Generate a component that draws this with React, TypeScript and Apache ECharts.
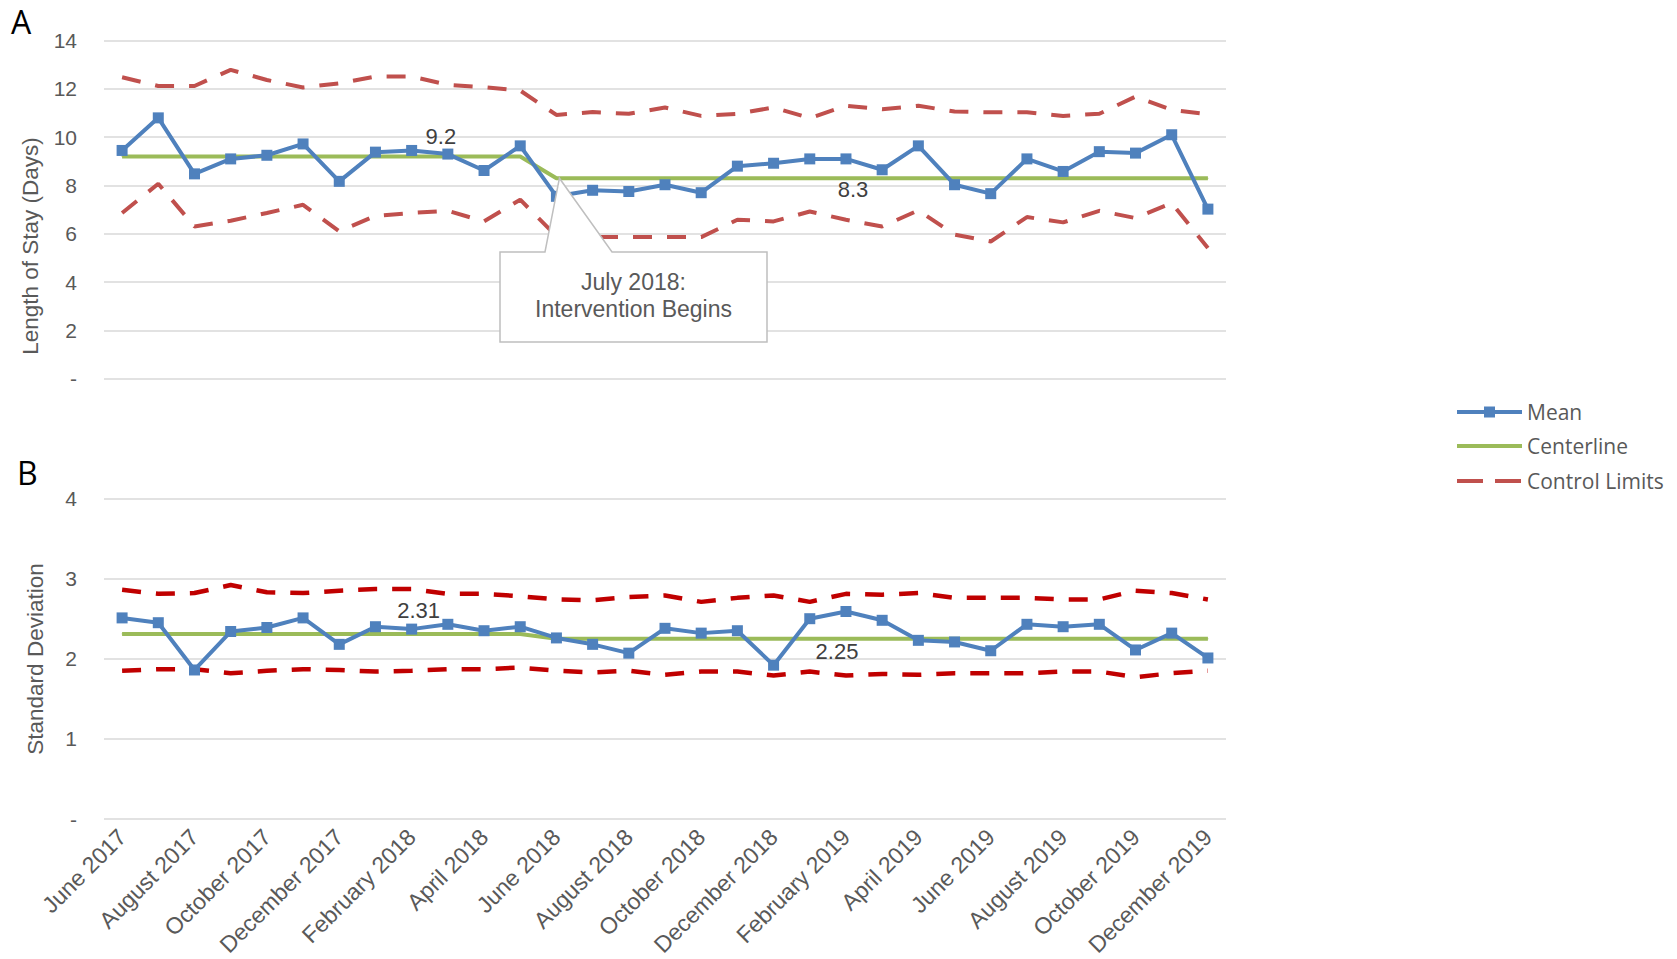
import React, { useEffect, useRef } from "react";
import * as echarts from "echarts";

const months = [
  "June 2017", "July 2017", "August 2017", "September 2017", "October 2017", "November 2017",
  "December 2017", "January 2018", "February 2018", "March 2018", "April 2018", "May 2018",
  "June 2018", "July 2018", "August 2018", "September 2018", "October 2018", "November 2018",
  "December 2018", "January 2019", "February 2019", "March 2019", "April 2019", "May 2019",
  "June 2019", "July 2019", "August 2019", "September 2019", "October 2019", "November 2019",
  "December 2019",
];

// Panel A: Length of stay (days)
const meanLOS = [9.45, 10.8, 8.48, 9.1, 9.25, 9.72, 8.17, 9.38, 9.45, 9.3, 8.62, 9.64, 7.55, 7.8, 7.75, 8.03, 7.7, 8.8, 8.92, 9.1, 9.1, 8.65, 9.64, 8.03, 7.66, 9.1, 8.58, 9.4, 9.34, 10.1, 7.02];
const centerLOS = [9.2, 9.2, 9.2, 9.2, 9.2, 9.2, 9.2, 9.2, 9.2, 9.2, 9.2, 9.2, 8.3, 8.3, 8.3, 8.3, 8.3, 8.3, 8.3, 8.3, 8.3, 8.3, 8.3, 8.3, 8.3, 8.3, 8.3, 8.3, 8.3, 8.3, 8.3];
const uclLOS = [12.48, 12.12, 12.12, 12.79, 12.37, 12.06, 12.23, 12.51, 12.51, 12.17, 12.07, 11.93, 10.92, 11.04, 10.97, 11.23, 10.88, 10.97, 11.23, 10.79, 11.3, 11.16, 11.3, 11.06, 11.03, 11.03, 10.88, 10.97, 11.68, 11.13, 10.95];
const lclLOS = [6.86, 8.07, 6.3, 6.54, 6.86, 7.2, 6.1, 6.74, 6.86, 6.95, 6.51, 7.41, 5.9, 5.86, 5.86, 5.86, 5.86, 6.58, 6.51, 6.92, 6.58, 6.3, 6.97, 5.96, 5.68, 6.69, 6.47, 6.95, 6.65, 7.27, 5.41];

// Panel B: Standard deviation
const meanSD = [2.51, 2.45, 1.86, 2.34, 2.39, 2.51, 2.18, 2.4, 2.37, 2.43, 2.35, 2.4, 2.26, 2.18, 2.07, 2.38, 2.32, 2.35, 1.92, 2.5, 2.59, 2.48, 2.23, 2.21, 2.1, 2.43, 2.4, 2.43, 2.11, 2.32, 2.01];
const centerSD = [2.31, 2.31, 2.31, 2.31, 2.31, 2.31, 2.31, 2.31, 2.31, 2.31, 2.31, 2.31, 2.25, 2.25, 2.25, 2.25, 2.25, 2.25, 2.25, 2.25, 2.25, 2.25, 2.25, 2.25, 2.25, 2.25, 2.25, 2.25, 2.25, 2.25, 2.25];
const uclSD = [2.86, 2.81, 2.82, 2.92, 2.83, 2.82, 2.85, 2.87, 2.87, 2.81, 2.81, 2.78, 2.74, 2.73, 2.77, 2.79, 2.71, 2.76, 2.79, 2.71, 2.81, 2.8, 2.82, 2.76, 2.76, 2.76, 2.74, 2.74, 2.85, 2.82, 2.74];
const lclSD = [1.85, 1.87, 1.87, 1.82, 1.85, 1.87, 1.86, 1.84, 1.85, 1.87, 1.87, 1.89, 1.85, 1.83, 1.85, 1.8, 1.84, 1.84, 1.79, 1.84, 1.79, 1.81, 1.8, 1.82, 1.82, 1.82, 1.84, 1.84, 1.77, 1.82, 1.85];

// Centerline value labels: [category index, text, position, distance, x-offset]
const labelsLOS: [number, string, string, number, number][] = [
  [9, "9.2", "top", 8, -7],
  [20, "8.3", "bottom", 0, 7],
];
const labelsSD: [number, string, string, number, number][] = [
  [8, "2.31", "top", 12, 7],
  [20, "2.25", "bottom", 1, -9],
];

const legendNames = ["Mean", "Centerline", "Control Limits"];
const calloutLines = ["July 2018:", "Intervention Begins"];
const interventionIndex = 12;

const AXIS_FONT = "'Liberation Sans', Arial, sans-serif";
const LEGEND_FONT = "'Open Sans', 'Noto Sans', sans-serif";
const BLUE = "#4F81BD";
const GREEN = "#9BBB59";
const RED_A = "#C0504D";
const RED_B = "#C00000";
const GRID_COLOR = "#D9D9D9";
const TEXT = "#595959";

function withLabels(arr: number[], labels: [number, string, string, number, number][]) {
  return arr.map((v, i) => {
    const l = labels.find((x) => x[0] === i);
    if (!l) return v;
    return {
      value: v,
      label: {
        show: true,
        position: l[2],
        distance: l[3],
        offset: [l[4], 0],
        formatter: l[1],
        color: "#404040",
        fontSize: 22,
        fontFamily: AXIS_FONT,
      },
    };
  });
}

export default function App() {
  const ref = useRef<HTMLDivElement>(null);

  useEffect(() => {
    if (!ref.current) return;
    const chart = echarts.init(ref.current, undefined, { renderer: "svg" });

    const yAxisCommon = {
      type: "value",
      axisLine: { show: false },
      axisTick: { show: false },
      splitLine: { lineStyle: { color: GRID_COLOR, width: 1.5 } },
      axisLabel: {
        color: TEXT,
        fontSize: 21,
        fontFamily: AXIS_FONT,
        margin: 27,
        formatter: (v: number) => (v === 0 ? "-" : String(v)),
      },
    };

    const dash = [19, 15];

    const mk = (name: string, data: any[], idx: number, color: string, extra: any = {}) => ({
      name,
      type: "line",
      xAxisIndex: idx,
      yAxisIndex: idx,
      data,
      symbol: "none",
      lineStyle: { color, width: 4 },
      itemStyle: { color },
      z: 2,
      ...extra,
    });

    const option: any = {
      animation: false,
      backgroundColor: "#ffffff",
      grid: [
        { left: 104, top: 40.6, width: 1122, height: 338 },
        { left: 104, top: 498.5, width: 1122, height: 321.5 },
      ],
      xAxis: [
        {
          type: "category",
          gridIndex: 0,
          data: months,
          boundaryGap: true,
          axisLine: { show: false },
          axisTick: { show: false },
          axisLabel: { show: false },
        },
        {
          type: "category",
          gridIndex: 1,
          data: months,
          boundaryGap: true,
          axisLine: { show: false },
          axisTick: { show: false },
          axisLabel: {
            interval: 1,
            rotate: 45,
            color: TEXT,
            fontSize: 23,
            fontFamily: AXIS_FONT,
            margin: 14,
          },
        },
      ],
      yAxis: [
        { ...yAxisCommon, gridIndex: 0, min: 0, max: 14, interval: 2 },
        { ...yAxisCommon, gridIndex: 1, min: 0, max: 4, interval: 1 },
      ],
      series: [
        mk("Mean", meanLOS, 0, BLUE, { z: 4, symbol: "rect", symbolSize: 11 }),
        mk("Centerline", withLabels(centerLOS, labelsLOS), 0, GREEN, {
          z: 3,
          symbol: "circle",
          symbolSize: 1,
        }),
        mk("Control Limits", uclLOS, 0, RED_A, { lineStyle: { color: RED_A, width: 4, type: dash } }),
        mk("Control Limits", lclLOS, 0, RED_A, { lineStyle: { color: RED_A, width: 4, type: dash } }),
        mk("Mean", meanSD, 1, BLUE, { z: 4, symbol: "rect", symbolSize: 11 }),
        mk("Centerline", withLabels(centerSD, labelsSD), 1, GREEN, {
          z: 3,
          symbol: "circle",
          symbolSize: 1,
        }),
        mk("Control Limits", uclSD, 1, RED_B, { lineStyle: { color: RED_B, width: 4.5, type: dash } }),
        mk("Control Limits", lclSD, 1, RED_B, { lineStyle: { color: RED_B, width: 4.5, type: dash } }),
      ],
    };

    chart.setOption(option);

    const tip = chart.convertToPixel({ xAxisIndex: 0, yAxisIndex: 0 }, [
      interventionIndex,
      centerLOS[interventionIndex],
    ]) as number[];

    const bx0 = 500, bx1 = 767, by0 = 252, by1 = 342;

    // Legend (drawn manually to match Excel look)
    const lx0 = 1457, lx1 = 1522, ltx = 1527;
    const ly = [412, 446, 481];
    const legendEls: any[] = [
      { type: "line", shape: { x1: lx0, y1: ly[0], x2: lx1, y2: ly[0] }, style: { stroke: BLUE, lineWidth: 4 } },
      { type: "rect", shape: { x: (lx0 + lx1) / 2 - 5.5, y: ly[0] - 5.5, width: 11, height: 11 }, style: { fill: BLUE } },
      { type: "line", shape: { x1: lx0, y1: ly[1], x2: lx1, y2: ly[1] }, style: { stroke: GREEN, lineWidth: 4 } },
      {
        type: "line",
        shape: { x1: lx0, y1: ly[2], x2: lx1, y2: ly[2] },
        style: { stroke: RED_A, lineWidth: 4, lineDash: [26, 12] },
      },
    ];
    legendNames.forEach((n, i) => {
      legendEls.push({
        type: "text",
        x: ltx,
        y: ly[i],
        style: {
          text: n,
          fontSize: 21,
          fontFamily: LEGEND_FONT,
          fill: TEXT,
          align: "left",
          verticalAlign: "middle",
        },
      });
    });

    chart.setOption({
      graphic: [
        ...legendEls,
        {
          type: "text",
          x: 11,
          y: 21,
          style: {
            text: "A",
            fontSize: 32,
            fontFamily: LEGEND_FONT,
            fill: "#000",
            align: "left",
            verticalAlign: "middle",
          },
        },
        {
          type: "text",
          x: 17,
          y: 472,
          style: {
            text: "B",
            fontSize: 32,
            fontFamily: LEGEND_FONT,
            fill: "#000",
            align: "left",
            verticalAlign: "middle",
          },
        },
        {
          type: "text",
          x: 30,
          y: 246,
          rotation: Math.PI / 2,
          style: {
            text: "Length of Stay (Days)",
            fontSize: 22.5,
            fontFamily: AXIS_FONT,
            fill: TEXT,
            align: "center",
            verticalAlign: "middle",
          },
        },
        {
          type: "text",
          x: 35,
          y: 659,
          rotation: Math.PI / 2,
          style: {
            text: "Standard Deviation",
            fontSize: 22.5,
            fontFamily: AXIS_FONT,
            fill: TEXT,
            align: "center",
            verticalAlign: "middle",
          },
        },
        {
          type: "polygon",
          z: 100,
          shape: {
            points: [
              [bx0, by0],
              [545, by0],
              [tip[0] + 3, tip[1]],
              [612, by0],
              [bx1, by0],
              [bx1, by1],
              [bx0, by1],
            ],
          },
          style: { fill: "#ffffff", stroke: "#BFBFBF", lineWidth: 1.5 },
        },
        {
          type: "text",
          z: 101,
          x: (bx0 + bx1) / 2,
          y: 282,
          style: {
            text: calloutLines[0],
            fontSize: 23,
            fontFamily: AXIS_FONT,
            fill: TEXT,
            align: "center",
            verticalAlign: "middle",
          },
        },
        {
          type: "text",
          z: 101,
          x: (bx0 + bx1) / 2,
          y: 309,
          style: {
            text: calloutLines[1],
            fontSize: 23,
            fontFamily: AXIS_FONT,
            fill: TEXT,
            align: "center",
            verticalAlign: "middle",
          },
        },
      ],
    });

    return () => chart.dispose();
  }, []);

  return (
    <div
      ref={ref}
      style={{ position: "fixed", left: 0, top: 0, width: 1677, height: 959, background: "#fff" }}
    />
  );
}
